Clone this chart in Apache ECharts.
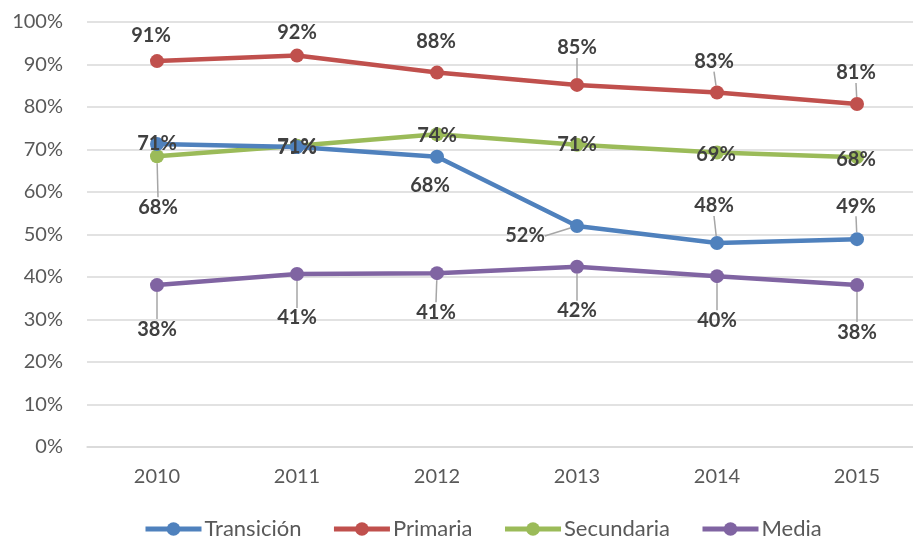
<!DOCTYPE html>
<html>
<head>
<meta charset="utf-8">
<script src="https://cdn.jsdelivr.net/npm/echarts@6/dist/echarts.min.js"></script>
<style>
  html, body { margin: 0; padding: 0; background: #fff; }
  #chart { width: 913px; height: 540px; }
</style>
</head>
<body>
<div id="chart"></div>
<script>
const years = [2010, 2011, 2012, 2013, 2014, 2015]
const yTicks = [0, 0.1, 0.2, 0.3, 0.4, 0.5, 0.6, 0.7, 0.8, 0.9, 1]

const transicion = [0.713, 0.706, 0.683, 0.520, 0.480, 0.489]
const primaria = [0.908, 0.921, 0.881, 0.852, 0.834, 0.807]
const secundaria = [0.684, 0.709, 0.736, 0.711, 0.693, 0.682]
const media = [0.381, 0.407, 0.409, 0.424, 0.402, 0.381]

// label shifts (dx, dy) from each point, and whether Excel drew a leader line
const labelShift = [
  [[0, 0], [0, 0], [-7, 29], [-52, 10], [-3, -37], [-1, -33]],
  [[-6, -26], [0, -23], [-1, -31], [0, -37], [-3, -31], [-1, -31]],
  [[1, 51], [0, 2], [0, 1], [0, 0], [-1, 2], [-1, 2]],
  [[0, 44], [0, 44], [-1, 39], [0, 44], [0, 44], [0, 47]]
]
const leader = [
  [false, false, false, true, true, true],
  [false, false, false, true, true, true],
  [true, false, false, false, false, false],
  [true, true, true, true, true, true]
]

const colors = ['#4f81bd', '#c0504d', '#9bbb59', '#8064a2']
const names = ['Transición', 'Primaria', 'Secundaria', 'Media']
const values = [transicion, primaria, secundaria, media]

const chart = echarts.init(document.getElementById('chart'))

// the Excel plot area runs a little past the right edge, so the x axis is a
// value axis from half a year before 2010, with 140px per year
const gridLeft = 87
const yearPx = 140
const xMin = years[0] - 0.5
const xMax = xMin + (913 - gridLeft) / yearPx

function makeSeries(i) {
  return {
    name: names[i],
    type: 'line',
    data: values[i].map((v, j) => ({
      value: [years[j], v],
      labelLine: { show: leader[i][j] }
    })),
    color: colors[i],
    symbol: 'circle',
    symbolSize: 14,
    lineStyle: { width: 4.5 },
    z: 2 + (i === 0 ? 1 : 0),
    label: {
      show: true,
      position: 'inside',
      fontFamily: 'Lato',
      fontWeight: 'bold',
      fontSize: 20,
      color: '#404040',
      formatter: p => Math.round(p.value[1] * 100) + '%'
    },
    labelLine: {
      show: true,
      lineStyle: { color: '#a6a6a6', width: 1.5 }
    },
    labelLayout: p => {
      const s = labelShift[i][p.dataIndex]
      return { dx: s[0], dy: s[1] }
    }
  }
}

chart.setOption({
  animation: false,
  backgroundColor: '#fff',
  textStyle: { fontFamily: 'Lato' },
  grid: {
    left: gridLeft,
    top: 22,
    right: 0,
    height: 425
  },
  legend: {
    left: 138,
    top: 513,
    itemWidth: 56,
    itemHeight: 17,
    itemGap: 30,
    lineStyle: { width: 5 },
    textStyle: { fontSize: 22, color: '#595959', fontFamily: 'Lato', padding: [0, 0, 0, -2] },
    data: names
  },
  xAxis: {
    type: 'value',
    min: xMin,
    max: xMax,
    splitLine: { show: false },
    axisTick: { show: false },
    axisLine: { lineStyle: { color: '#d9d9d9', width: 1.5 } },
    axisLabel: {
      customValues: years,
      fontSize: 20,
      color: '#595959',
      margin: 20,
      formatter: v => String(v)
    }
  },
  yAxis: {
    type: 'value',
    min: yTicks[0],
    max: yTicks[yTicks.length - 1],
    interval: 0.1,
    axisLine: { show: false },
    axisTick: { show: false },
    splitLine: { lineStyle: { color: '#d9d9d9', width: 1.5 } },
    axisLabel: {
      fontSize: 20,
      color: '#595959',
      margin: 24,
      formatter: v => Math.round(v * 100) + '%'
    }
  },
  series: [makeSeries(0), makeSeries(1), makeSeries(2), makeSeries(3)]
})
</script>
</body>
</html>
